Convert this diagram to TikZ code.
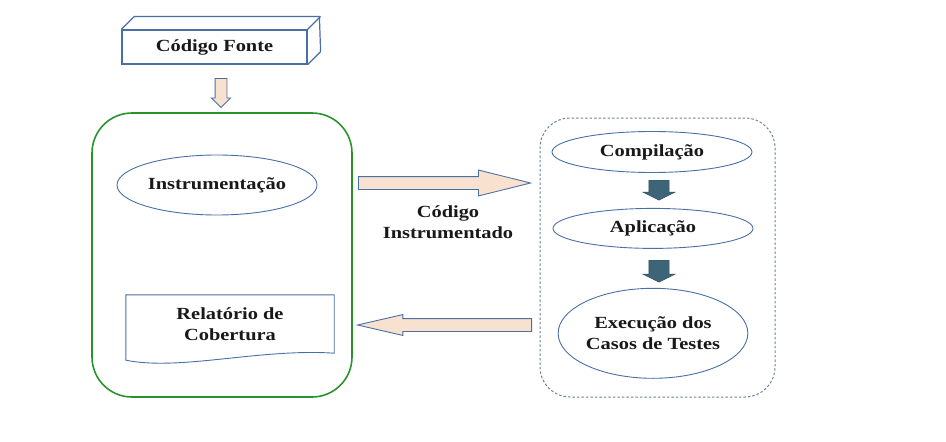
\documentclass[tikz,border=0pt]{standalone}
\usepackage{fontspec}
\setmainfont{Liberation Serif}[FakeStretch=1.2]
\usetikzlibrary{shapes.geometric,shapes.arrows,positioning,calc}

\definecolor{frameblue}{HTML}{4A6FA5}
\definecolor{peach}{HTML}{F8E2CF}
\definecolor{slate}{HTML}{3E6478}
\definecolor{groupgreen}{HTML}{2A922A}
\definecolor{dashgray}{HTML}{6A8496}

\begin{document}
\begin{tikzpicture}[
  x=1pt, y=-1pt,
  every node/.style={font=\bfseries\fontsize{17}{21}\selectfont, text=black!90},
  group/.style={draw=groupgreen, line width=1.6pt, rounded corners=40pt,
              minimum width=260pt, minimum height=284pt},
  dashgroup/.style={draw=dashgray, line width=1pt, dash pattern=on 2.5pt off 2pt,
              rounded corners=30pt, minimum width=235pt, minimum height=279pt},
  stage/.style={ellipse, draw=frameblue, line width=0.9pt, inner sep=0pt,
              minimum width=200pt, minimum height=40pt, align=center},
  frame/.style={draw=frameblue, line width=1.2pt},
  fat/.style={single arrow, draw=frameblue, fill=peach, line width=0.9pt,
              inner xsep=0pt, anchor=tail},
  darkar/.style={single arrow, fill=slate, draw=slate!80!black, shape border rotate=270,
              inner xsep=10pt, inner ysep=0pt, single arrow head extend=6pt,
              single arrow tip angle=127, anchor=tail}
]
\useasboundingbox (0,0) rectangle (946,442);

% source code block
\node[frame, fill=white, minimum width=185pt, minimum height=34pt, inner sep=0pt] (src) at (214.5,47) {Código Fonte};
\draw[frame, line join=round] (src.north west) -- ++(13,-13) -- ++(185,0) -- ($(src.south east)+(13,-13)$) -- (src.south east);
\draw[frame] (src.north east) -- ++(13,-13);
\node[fat, shape border rotate=270, minimum height=29pt, inner xsep=5.5pt, inner ysep=0pt,
      single arrow head extend=3.5pt, single arrow tip angle=90] (down) at (221,78) {};

% instrumentation side
\node[group] (instr) at (222,255) {};
\node[stage, minimum height=60pt] (instrum) at (217,185) {Instrumentação};
\node[align=center, minimum width=208pt, minimum height=58pt, inner sep=0pt] (report) at (230,324) {Relatório de\\Cobertura};
\draw[draw=frameblue, line width=0.9pt] (report.north west) -- (report.north east) -- (report.south east)
  .. controls ($(report.south east)+(-74,-5)$) and ($(report.south west)+(54,18)$) .. ($(report.south west)+(0,7)$) -- cycle;

% exchange between the two sides
\node[fat, minimum height=172pt, inner ysep=6pt, single arrow head extend=6.5pt,
      single arrow tip angle=28] (fwd) at (358,183) {};
\node[align=center] (fwdlbl) at (448,222) {Código\\Instrumentado};
\node[fat, shape border rotate=180, minimum height=174pt, inner ysep=6pt,
      single arrow head extend=4pt, single arrow tip angle=26] (back) at (532,325) {};

% execution side
\node[dashgroup] (run) at (657.5,257.5) {};
\node[stage, minimum height=41pt] (comp) at (652,152) {Compilação};
\node[stage, below=35pt of comp.south, anchor=north, xshift=1pt] (apl) {Aplicação};
\node[stage, minimum width=180pt, minimum height=90pt, below=39pt of apl.south, anchor=north] (exec) {Execução dos\\Casos de Testes};
\node[darkar, minimum height=20pt] (c2a) at (659,180) {};
\node[darkar, minimum height=22pt] (a2e) at (659,260) {};
\end{tikzpicture}
\end{document}
